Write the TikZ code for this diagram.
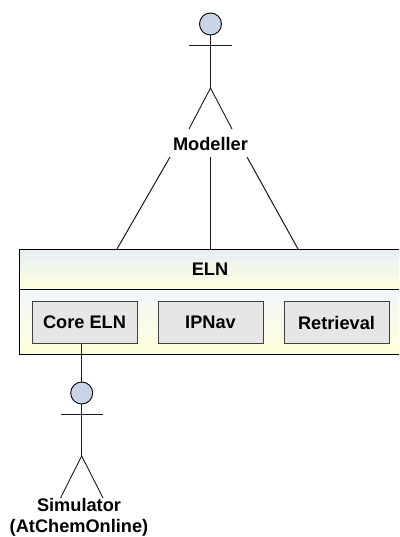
\documentclass[tikz,border=0pt]{standalone}
\usepackage{fontspec}
\setmainfont{Liberation Sans}
\definecolor{headfill}{HTML}{C9D5E6}
\definecolor{gradtop}{HTML}{E6EEF5}
\definecolor{gradbot}{HTML}{FFFFDC}
\definecolor{innerfill}{HTML}{E6E6E6}
\definecolor{linecol}{HTML}{1A1A1A}
\tikzset{
  px/.style={x=1bp,y=-1bp},
  actorhead/.style={circle,draw=black,fill=headfill,line width=0.9bp,minimum size=22bp,inner sep=0pt},
  actorline/.style={draw=linecol,line width=0.9bp},
  link/.style={draw=linecol,line width=1bp},
  boxedge/.style={draw=black,line width=0.9bp},
  innerbox/.style={draw=black!75,fill=innerfill,line width=1bp,minimum width=105bp,minimum height=42bp,inner sep=0pt,font=\fontsize{18.2bp}{21bp}\selectfont\bfseries},
  lbl/.style={inner sep=0pt,font=\fontsize{18.2bp}{21bp}\selectfont\bfseries,align=center}
}
\begin{document}
\begin{tikzpicture}[px]
\useasboundingbox (0,0) rectangle (399,537);
% ELN container
\path[clip] (0,0) rectangle (399,537);
\shade[top color=gradtop,bottom color=gradbot] (19,249) rectangle (405,289);
\shade[top color=white!50!gradtop,bottom color=gradbot] (19,289) rectangle (405,354);
\draw[boxedge] (405,249) -- (19,249) -- (19,354) -- (405,354);
\draw[boxedge] (19,289) -- (405,289);
\node[lbl] (eln) at (210,269) {ELN};
\node[innerbox] (core) at (84.5,322.5) {Core ELN};
\node[innerbox] (ipnav) at (210.5,322.5) {IPNav};
\node[innerbox] (retr) at (336.5,322.5) {Retrieval};
% anchors on the container top edge
\coordinate (t1) at (117,249);
\coordinate (t2) at (210.5,249);
\coordinate (t3) at (298,249);
% Modeller actor
\node[actorhead] (mhead) at (210.5,24) {};
\coordinate (marmL) at (189,45);
\coordinate (marmR) at (232,45);
\coordinate (mhip) at (210.5,88);
\coordinate (mlegL) at (189,129);
\coordinate (mlegR) at (232,129);
\draw[actorline] (mhead.south) -- (mhip);
\draw[actorline] (marmL) -- (marmR);
\draw[actorline] (mlegL) -- (mhip) -- (mlegR);
\node[lbl] (mlabel) at (210.5,144) {Modeller};
\coordinate (m1) at (170,157);
\coordinate (m2) at (210.5,157);
\coordinate (m3) at (247,157);
\draw[link] (m1) -- (t1);
\draw[link] (m2) -- (t2);
\draw[link] (m3) -- (t3);
% Simulator actor
\node[actorhead] (shead) at (81.7,393) {};
\coordinate (sarmL) at (60.5,414);
\coordinate (sarmR) at (103,414);
\coordinate (ship) at (81.7,456);
\coordinate (slegL) at (60.5,498);
\coordinate (slegR) at (103,498);
\draw[link] (core.south -| shead) -- (shead.north);
\draw[actorline] (shead.south) -- (ship);
\draw[actorline] (sarmL) -- (sarmR);
\draw[actorline] (slegL) -- (ship) -- (slegR);
\node[lbl] (slabel) at (79,517) {Simulator\\(AtChemOnline)};
\end{tikzpicture}
\end{document}
